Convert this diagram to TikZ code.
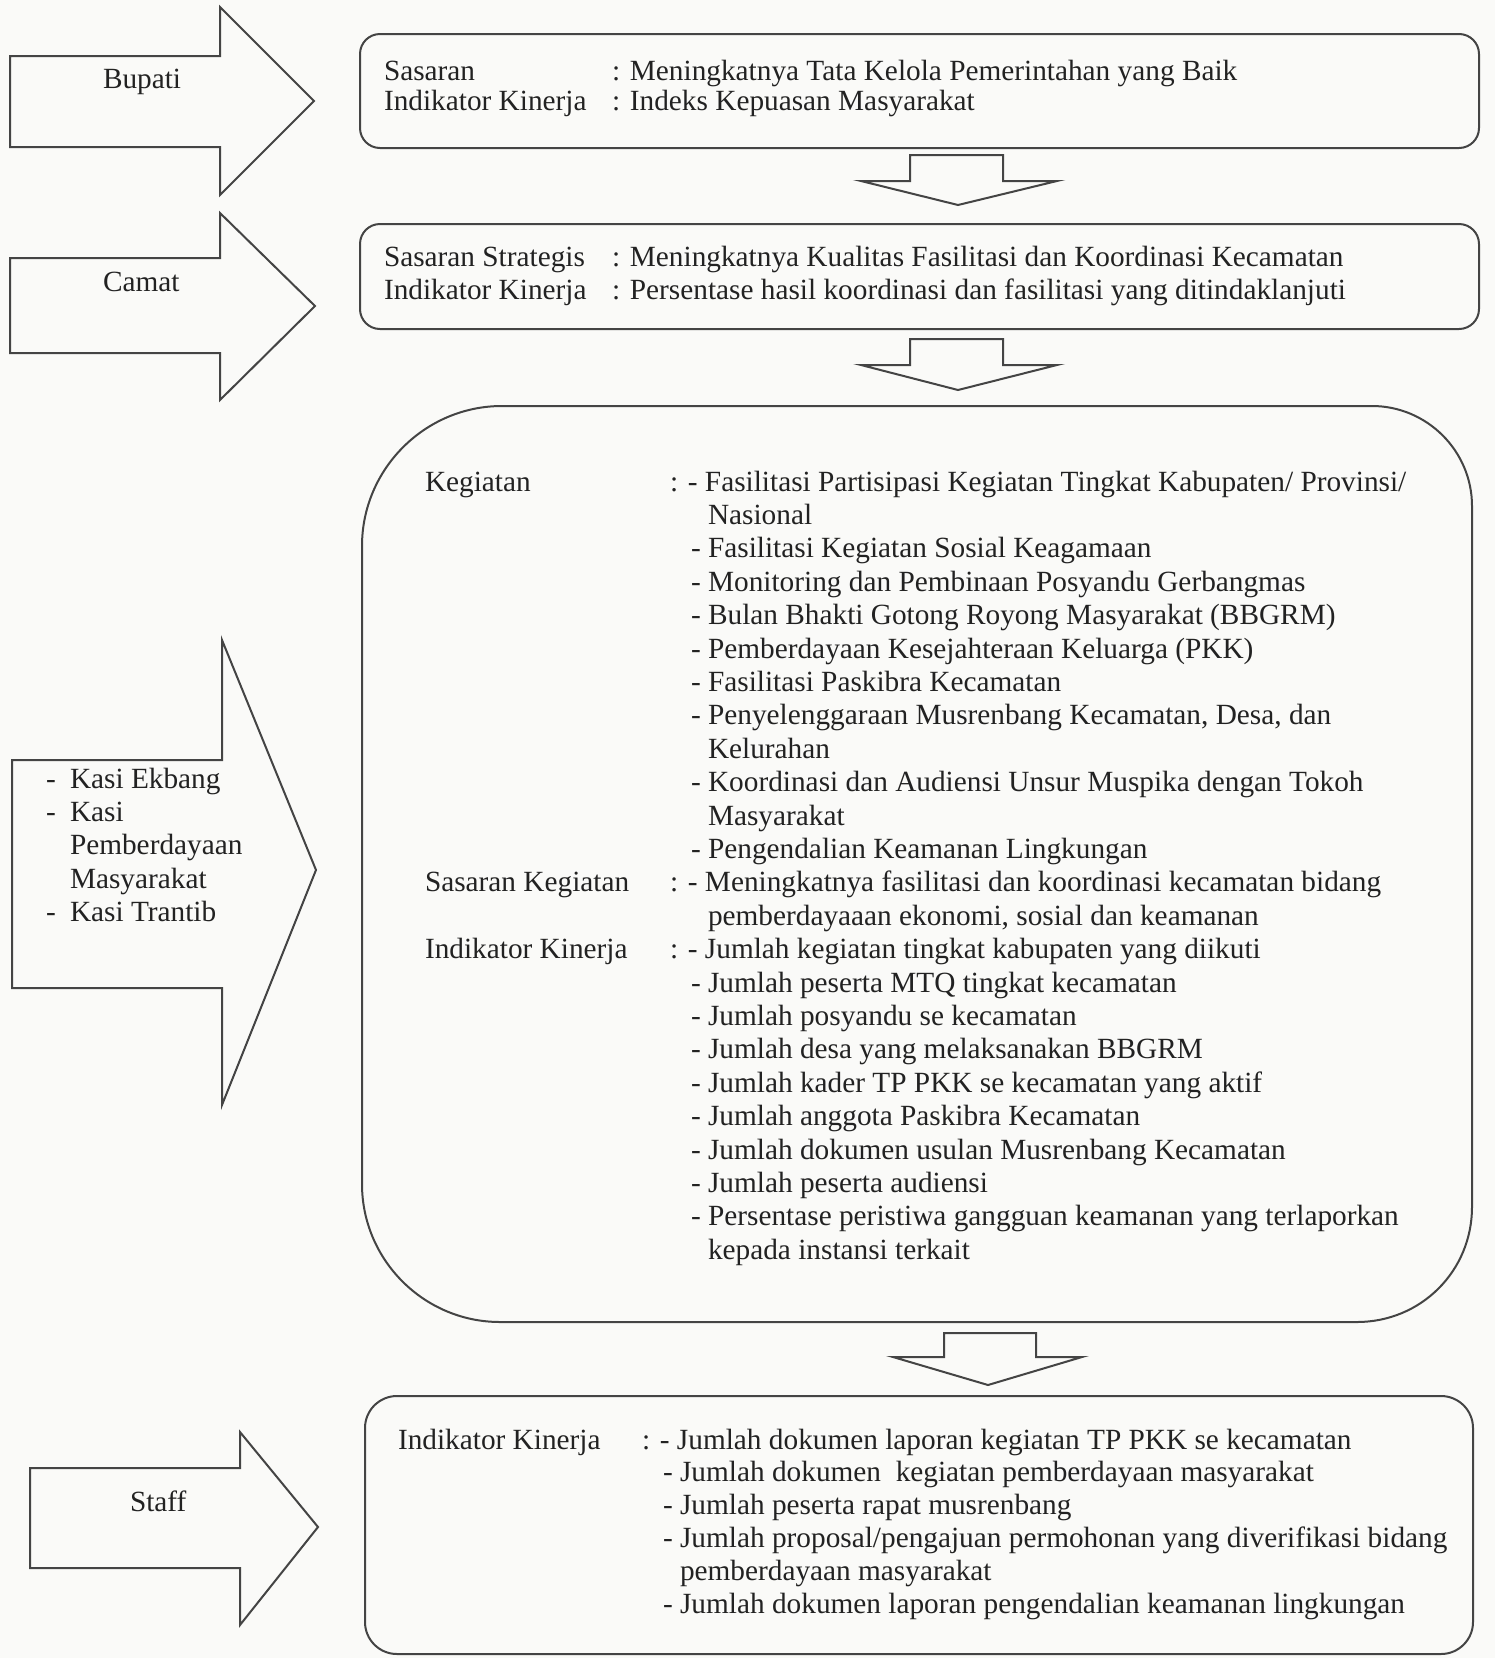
\documentclass[tikz,border=0pt]{standalone}
\usepackage{fontspec}
\setmainfont{Liberation Serif}
\definecolor{linecol}{HTML}{444444}
\definecolor{textcol}{HTML}{222222}
\definecolor{bgcol}{HTML}{FAFAF8}
\newcommand\myfs{\fontsize{29.3}{33.4}\selectfont}
\begin{document}
\begin{tikzpicture}[x=1pt,y=-1pt,
  shapeline/.style={draw=linecol, line width=2pt, line join=miter},
  boxline/.style={draw=linecol, line width=2pt, inner sep=0pt, anchor=north west},
  txt/.style={anchor=base west, inner sep=0pt, outer sep=0pt, text=textcol, font=\myfs}]

\fill[bgcol] (0,0) rectangle (1495,1658);
\useasboundingbox (0,0) rectangle (1495,1658);

% ---------- left block arrows ----------
\draw[shapeline] (10,56) -- (220,56) -- (220,7) -- (314,101) -- (220,195) -- (220,147) -- (10,147) -- cycle;
\draw[shapeline] (10,258) -- (220,258) -- (220,213) -- (315,306) -- (220,400) -- (220,353) -- (10,353) -- cycle;
\draw[shapeline] (12,760) -- (222,760) -- (222,640) -- (316,870) -- (222,1105) -- (222,988) -- (12,988) -- cycle;
\draw[shapeline] (30,1468) -- (240,1468) -- (240,1432) -- (318,1527) -- (240,1625) -- (240,1568) -- (30,1568) -- cycle;

\node[txt] (bupati) at (103,88) {Bupati};
\node[txt] (camat) at (103,291) {Camat};
\node[txt] (staff) at (130,1511) {Staff};

\node[txt] (kd1) at (46,788) {-};
\node[txt] (kt1) at (70,788) {Kasi Ekbang};
\node[txt] (kd2) at (46,821.4) {-};
\node[txt] (kt2) at (70,821.4) {Kasi};
\node[txt] (kt3) at (70,854.8) {Pemberdayaan};
\node[txt] (kt4) at (70,888.2) {Masyarakat};
\node[txt] (kd5) at (46,921.6) {-};
\node[txt] (kt5) at (70,921.6) {Kasi Trantib};

% ---------- boxes ----------
\node[boxline, rounded corners=20pt, minimum width=1119pt, minimum height=114pt] (b1) at (359,33) {};
\node[boxline, rounded corners=20pt, minimum width=1119pt, minimum height=105pt] (b2) at (359,223) {};
\node[boxline, rounded corners=32pt, minimum width=1108pt, minimum height=258pt] (b4) at (364,1395) {};

% big box with unequal corners
\draw[draw=linecol, line width=2pt]
  (502,406) -- (1372,406)
  .. controls (1427,406) and (1472,451) .. (1472,506)
  -- (1472,1207)
  .. controls (1472,1271) and (1421,1322) .. (1357,1322)
  -- (500,1322)
  .. controls (424,1322) and (362,1260) .. (362,1184)
  -- (362,546)
  .. controls (362,469) and (425,406) .. (502,406) -- cycle;

% ---------- down arrows ----------
\draw[shapeline] (910,155) -- (1003,155) -- (1003,181) -- (1057,181) -- (958,205) -- (861,181) -- (910,181) -- cycle;
\draw[shapeline] (910,339) -- (1003,339) -- (1003,365) -- (1057,365) -- (958,390) -- (861,365) -- (910,365) -- cycle;
\draw[shapeline] (944,1333) -- (1036,1333) -- (1036,1357) -- (1082,1357) -- (988,1385) -- (893,1357) -- (944,1357) -- cycle;

% ---------- box 1 text ----------
\node[txt] (s1l) at (384,80) {Sasaran};
\node[txt] (s1t) at (612,80) {: Meningkatnya Tata Kelola Pemerintahan yang Baik};
\node[txt] (i1l) at (384,110) {Indikator Kinerja};
\node[txt] (i1t) at (612,110) {: Indeks Kepuasan Masyarakat};

% ---------- box 2 text ----------
\node[txt] (s2l) at (384,266) {Sasaran Strategis};
\node[txt] (s2t) at (612,266) {: Meningkatnya Kualitas Fasilitasi dan Koordinasi Kecamatan};
\node[txt] (i2l) at (384,299) {Indikator Kinerja};
\node[txt] (i2t) at (612,299) {: Persentase hasil koordinasi dan fasilitasi yang ditindaklanjuti};

% ---------- big box text ----------
\node[txt] (kgl) at (425,491) {Kegiatan};
\node[txt] (k0) at (670,491) {: - Fasilitasi Partisipasi Kegiatan Tingkat Kabupaten/ Provinsi/};
\node[txt] (k1) at (708,524.4) {Nasional};
\node[txt] (k2) at (691,557.8) {- Fasilitasi Kegiatan Sosial Keagamaan};
\node[txt] (k3) at (691,591.2) {- Monitoring dan Pembinaan Posyandu Gerbangmas};
\node[txt] (k4) at (691,624.6) {- Bulan Bhakti Gotong Royong Masyarakat (BBGRM)};
\node[txt] (k5) at (691,658) {- Pemberdayaan Kesejahteraan Keluarga (PKK)};
\node[txt] (k6) at (691,691.4) {- Fasilitasi Paskibra Kecamatan};
\node[txt] (k7) at (691,724.8) {- Penyelenggaraan Musrenbang Kecamatan, Desa, dan};
\node[txt] (k8) at (708,758.2) {Kelurahan};
\node[txt] (k9) at (691,791.6) {- Koordinasi dan Audiensi Unsur Muspika dengan Tokoh};
\node[txt] (k10) at (708,825) {Masyarakat};
\node[txt] (k11) at (691,858.4) {- Pengendalian Keamanan Lingkungan};
\node[txt] (skl) at (425,891.8) {Sasaran Kegiatan};
\node[txt] (k12) at (670,891.8) {: - Meningkatnya fasilitasi dan koordinasi kecamatan bidang};
\node[txt] (k13) at (708,925.2) {pemberdayaaan ekonomi, sosial dan keamanan};
\node[txt] (ikl) at (425,958.6) {Indikator Kinerja};
\node[txt] (k14) at (670,958.6) {: - Jumlah kegiatan tingkat kabupaten yang diikuti};
\node[txt] (k15) at (691,992) {- Jumlah peserta MTQ tingkat kecamatan};
\node[txt] (k16) at (691,1025.4) {- Jumlah posyandu se kecamatan};
\node[txt] (k17) at (691,1058.8) {- Jumlah desa yang melaksanakan BBGRM};
\node[txt] (k18) at (691,1092.2) {- Jumlah kader TP PKK se kecamatan yang aktif};
\node[txt] (k19) at (691,1125.6) {- Jumlah anggota Paskibra Kecamatan};
\node[txt] (k20) at (691,1159) {- Jumlah dokumen usulan Musrenbang Kecamatan};
\node[txt] (k21) at (691,1192.4) {- Jumlah peserta audiensi};
\node[txt] (k22) at (691,1225.8) {- Persentase peristiwa gangguan keamanan yang terlaporkan};
\node[txt] (k23) at (708,1259.2) {kepada instansi terkait};

% ---------- box 4 text ----------
\node[txt] (i4l) at (398,1449) {Indikator Kinerja};
\node[txt] (m0) at (642,1449) {: - Jumlah dokumen laporan kegiatan TP PKK se kecamatan};
\node[txt] (m1) at (663,1481.8) {- Jumlah dokumen\ \ kegiatan pemberdayaan masyarakat};
\node[txt] (m2) at (663,1514.6) {- Jumlah peserta rapat musrenbang};
\node[txt] (m3) at (663,1547.4) {- Jumlah proposal/pengajuan permohonan yang diverifikasi bidang};
\node[txt] (m4) at (680,1580.2) {pemberdayaan masyarakat};
\node[txt] (m5) at (663,1613) {- Jumlah dokumen laporan pengendalian keamanan lingkungan};
\end{tikzpicture}
\end{document}
